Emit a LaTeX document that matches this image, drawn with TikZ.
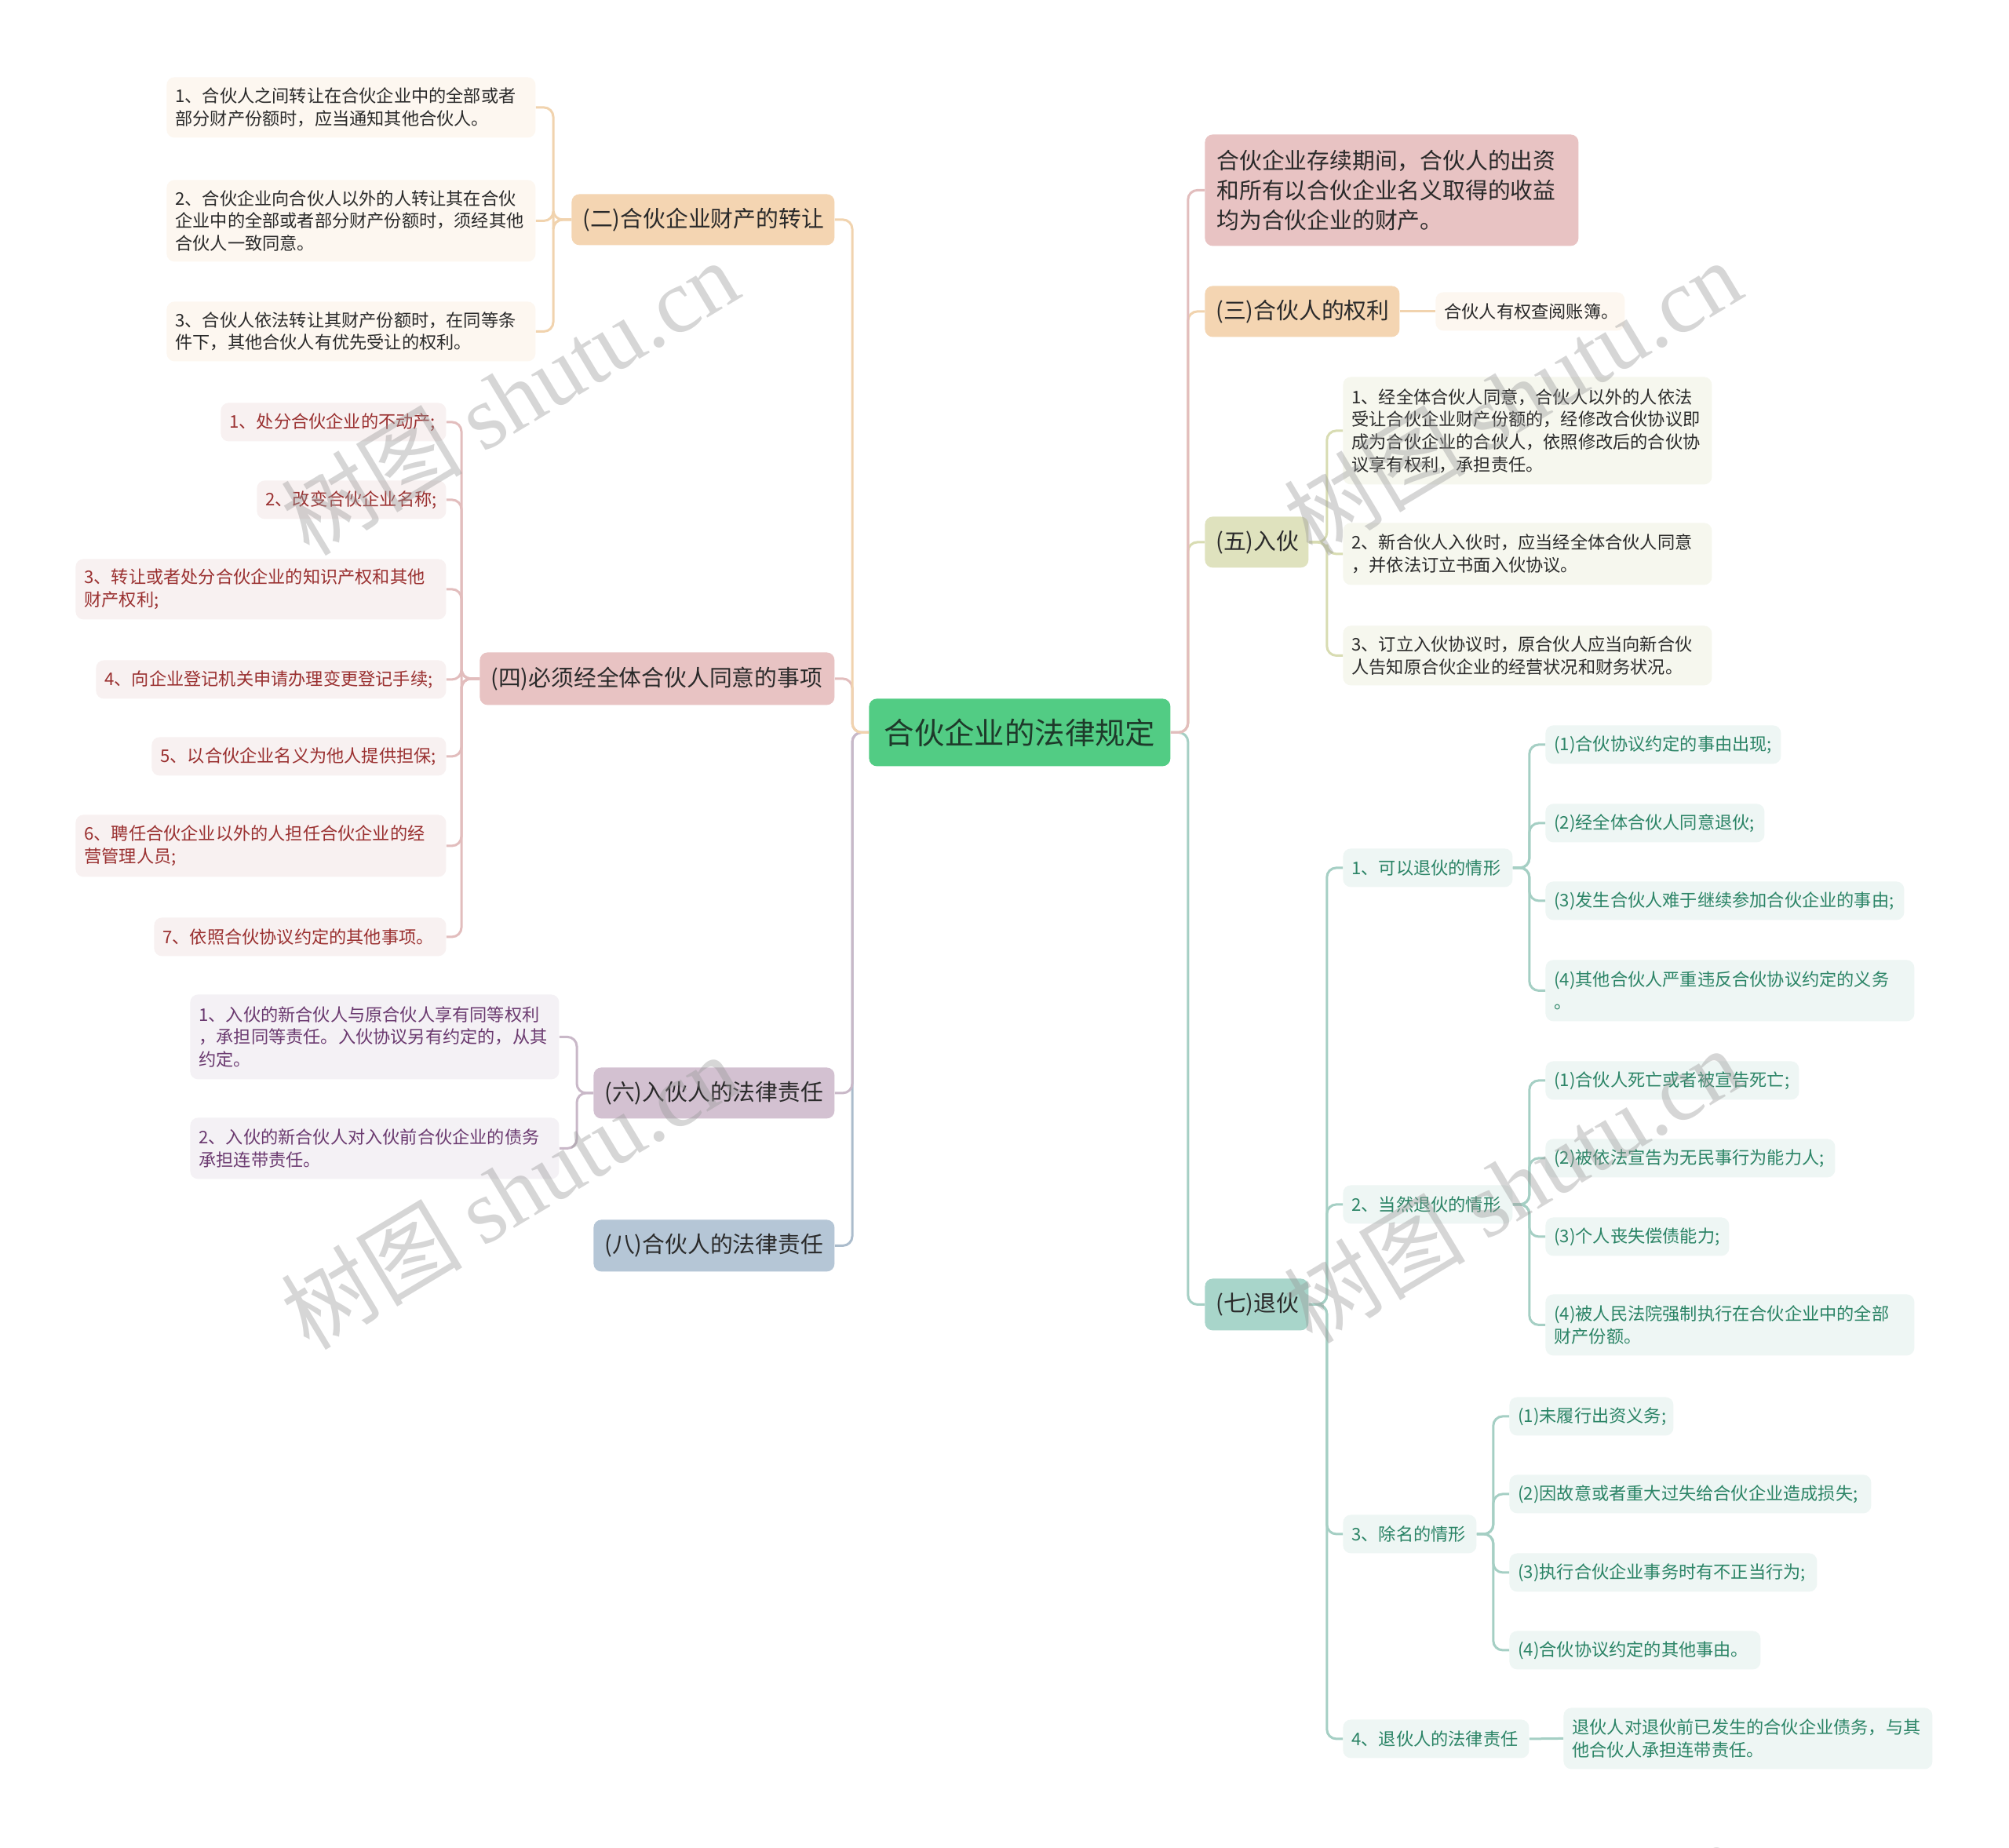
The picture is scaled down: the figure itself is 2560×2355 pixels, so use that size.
\documentclass[tikz,border=0pt]{standalone}
\usepackage{fontspec}
\setmainfont{Noto Sans CJK SC}
\newfontfamily\wmserif{Liberation Serif}
\definecolor{rootg}{HTML}{52CC84}
\definecolor{rootText}{HTML}{1E3A2A}
\definecolor{tanL1}{HTML}{F4D5B2}
\definecolor{tanLeaf}{HTML}{FDF7F0}
\definecolor{tanLine}{HTML}{F1D3AE}
\definecolor{pinkL1}{HTML}{E8C3C3}
\definecolor{pinkLeaf}{HTML}{F8F1F1}
\definecolor{pinkLine}{HTML}{E2BDBD}
\definecolor{pinkText}{HTML}{9A3030}
\definecolor{mauveL1}{HTML}{D3C1D1}
\definecolor{mauveLeaf}{HTML}{F4F1F5}
\definecolor{mauveLine}{HTML}{C9B8C8}
\definecolor{mauveText}{HTML}{6B3A70}
\definecolor{blueL1}{HTML}{B5C6D6}
\definecolor{blueLine}{HTML}{ABBCCC}
\definecolor{oliveL1}{HTML}{DFE2BE}
\definecolor{oliveLeaf}{HTML}{F6F7EE}
\definecolor{oliveLine}{HTML}{D8DCB2}
\definecolor{tealL1}{HTML}{A8D5CA}
\definecolor{tealLeaf}{HTML}{EEF6F4}
\definecolor{tealLine}{HTML}{A5CFC4}
\definecolor{tealText}{HTML}{2B8466}
\definecolor{darkText}{HTML}{2A2A2A}
\newcommand{\mmbox}[8]{%
  \pgfmathsetmacro\mmw{(#5-#3)/2}%
  \pgfmathsetmacro\mmh{(#6-#4)/2}%
  \pgfmathsetmacro\mmtw{(#5-#3)/2-2*#8}%
  \node[#2, anchor=north west, inner xsep=#8pt, inner ysep=0pt,
        minimum width=\mmw pt, minimum height=\mmh pt, text width=\mmtw pt] (#1) at (#3,#4) {#7};}
\tikzset{
  basebox/.style={rounded corners=5pt, align=left},
  leaffont/.style={font=\fontsize{11.1}{14.3}\selectfont},
  lonefont/.style={font=\fontsize{14.4}{19}\selectfont, text=darkText},
  rootbox/.style={basebox, fill=rootg, text=rootText, align=center, font=\fontsize{19.2}{23}\selectfont},
  tanbox/.style={basebox, lonefont, fill=tanL1},
  tanleaf/.style={basebox, leaffont, fill=tanLeaf, text=darkText},
  pinkbox/.style={basebox, lonefont, fill=pinkL1},
  pinkleaf/.style={basebox, leaffont, fill=pinkLeaf, text=pinkText},
  mauvebox/.style={basebox, lonefont, fill=mauveL1},
  mauveleaf/.style={basebox, leaffont, fill=mauveLeaf, text=mauveText},
  bluebox/.style={basebox, lonefont, fill=blueL1},
  olivebox/.style={basebox, lonefont, fill=oliveL1},
  oliveleaf/.style={basebox, leaffont, fill=oliveLeaf, text=darkText},
  tealbox/.style={basebox, lonefont, fill=tealL1},
  tealleaf/.style={basebox, leaffont, fill=tealLeaf, text=tealText},
  conn/.style={line width=1.5pt, rounded corners=6pt},
  wm/.style={text=black!40, opacity=0.4, font=\fontsize{58}{58}\selectfont, rotate=31}
}
\begin{document}
\begin{tikzpicture}[x=0.5pt,y=-0.5pt]
\useasboundingbox (0,0) rectangle (2560,2355);
\fill[white] (0,0) rectangle (2560,2355);

% root
\mmbox{root}{rootbox}{1107}{890}{1491}{976}{合伙企业的法律规定}{0}

% left level 1
\mmbox{n2}{tanbox}{728}{247}{1063}{312}{(二)合伙企业财产的转让}{7}
\mmbox{n4}{pinkbox}{611}{831}{1063}{898}{(四)必须经全体合伙人同意的事项}{7}
\mmbox{n6}{mauvebox}{756}{1360}{1063}{1425}{(六)入伙人的法律责任}{7}
\mmbox{n8}{bluebox}{756}{1554}{1063}{1620}{(八)合伙人的法律责任}{7}

% (二) leaves
\mmbox{a1}{tanleaf}{212}{98}{682}{175}{1、合伙人之间转让在合伙企业中的全部或者\\部分财产份额时，应当通知其他合伙人。}{5.5}
\mmbox{a2}{tanleaf}{212}{229}{682}{333}{2、合伙企业向合伙人以外的人转让其在合伙\\企业中的全部或者部分财产份额时，须经其他\\合伙人一致同意。}{5.5}
\mmbox{a3}{tanleaf}{212}{384}{682}{460}{3、合伙人依法转让其财产份额时，在同等条\\件下，其他合伙人有优先受让的权利。}{5.5}

% (四) leaves
\mmbox{b1}{pinkleaf}{281}{513}{568}{562}{1、处分合伙企业的不动产;}{5.5}
\mmbox{b2}{pinkleaf}{327}{612}{568}{661}{2、改变合伙企业名称;}{5.5}
\mmbox{b3}{pinkleaf}{96}{712}{568}{789}{3、转让或者处分合伙企业的知识产权和其他\\财产权利;}{5.5}
\mmbox{b4}{pinkleaf}{122}{841}{568}{890}{4、向企业登记机关申请办理变更登记手续;}{5.5}
\mmbox{b5}{pinkleaf}{193}{939}{568}{988}{5、以合伙企业名义为他人提供担保;}{5.5}
\mmbox{b6}{pinkleaf}{96}{1038}{568}{1117}{6、聘任合伙企业以外的人担任合伙企业的经\\营管理人员;}{5.5}
\mmbox{b7}{pinkleaf}{196}{1169}{568}{1218}{7、依照合伙协议约定的其他事项。}{5.5}

% (六) leaves
\mmbox{d1}{mauveleaf}{242}{1267}{712}{1375}{1、入伙的新合伙人与原合伙人享有同等权利\\，承担同等责任。入伙协议另有约定的，从其\\约定。}{5.5}
\mmbox{d2}{mauveleaf}{242}{1424}{712}{1502}{2、入伙的新合伙人对入伙前合伙企业的债务\\承担连带责任。}{5.5}

% right level 1
\mmbox{p1}{pinkbox}{1535}{171}{2011}{313}{合伙企业存续期间，合伙人的出资\\和所有以合伙企业名义取得的收益\\均为合伙企业的财产。}{7.5}
\mmbox{n3}{tanbox}{1535}{364}{1783}{429}{(三)合伙人的权利}{7}
\mmbox{n5}{olivebox}{1535}{658}{1667}{723}{(五)入伙}{7}
\mmbox{n7}{tealbox}{1535}{1629}{1667}{1695}{(七)退伙}{7}

\mmbox{n3a}{tanleaf}{1829}{372}{2070}{421}{合伙人有权查阅账簿。}{5.5}

% (五) leaves
\mmbox{e1}{oliveleaf}{1711}{480}{2181}{617}{1、经全体合伙人同意，合伙人以外的人依法\\受让合伙企业财产份额的，经修改合伙协议即\\成为合伙企业的合伙人，依照修改后的合伙协\\议享有权利，承担责任。}{5.5}
\mmbox{e2}{oliveleaf}{1711}{666}{2181}{745}{2、新合伙人入伙时，应当经全体合伙人同意\\，并依法订立书面入伙协议。}{5.5}
\mmbox{e3}{oliveleaf}{1711}{797}{2181}{873}{3、订立入伙协议时，原合伙人应当向新合伙\\人告知原合伙企业的经营状况和财务状况。}{5.5}

% (七) children
\mmbox{c1}{tealleaf}{1711}{1081}{1927}{1130}{1、可以退伙的情形}{5.5}
\mmbox{c2}{tealleaf}{1711}{1510}{1927}{1559}{2、当然退伙的情形}{5.5}
\mmbox{c3}{tealleaf}{1711}{1930}{1881}{1979}{3、除名的情形}{5.5}
\mmbox{c4}{tealleaf}{1711}{2191}{1948}{2240}{4、退伙人的法律责任}{5.5}

\mmbox{f1}{tealleaf}{1969}{924}{2269}{973}{(1)合伙协议约定的事由出现;}{5.5}
\mmbox{f2}{tealleaf}{1969}{1024}{2248}{1073}{(2)经全体合伙人同意退伙;}{5.5}
\mmbox{f3}{tealleaf}{1969}{1123}{2426}{1172}{(3)发生合伙人难于继续参加合伙企业的事由;}{5.5}
\mmbox{f4}{tealleaf}{1969}{1223}{2439}{1301}{(4)其他合伙人严重违反合伙协议约定的义务\\。}{5.5}

\mmbox{g1}{tealleaf}{1969}{1352}{2292}{1401}{(1)合伙人死亡或者被宣告死亡;}{5.5}
\mmbox{g2}{tealleaf}{1969}{1451}{2338}{1500}{(2)被依法宣告为无民事行为能力人;}{5.5}
\mmbox{g3}{tealleaf}{1969}{1551}{2203}{1600}{(3)个人丧失偿债能力;}{5.5}
\mmbox{g4}{tealleaf}{1969}{1649}{2439}{1727}{(4)被人民法院强制执行在合伙企业中的全部\\财产份额。}{5.5}

\mmbox{h1}{tealleaf}{1923}{1780}{2132}{1829}{(1)未履行出资义务;}{5.5}
\mmbox{h2}{tealleaf}{1923}{1879}{2384}{1928}{(2)因故意或者重大过失给合伙企业造成损失;}{5.5}
\mmbox{h3}{tealleaf}{1923}{1979}{2315}{2028}{(3)执行合伙企业事务时有不正当行为;}{5.5}
\mmbox{h4}{tealleaf}{1923}{2078}{2243}{2127}{(4)合伙协议约定的其他事由。}{5.5}

\mmbox{k1}{tealleaf}{1992}{2176}{2462}{2254}{退伙人对退伙前已发生的合伙企业债务，与其\\他合伙人承担连带责任。}{5.5}

% connectors: root to left
\draw[conn, blueLine] (root.west) -- ++(-21,0) |- (n8.east);
\draw[conn, mauveLine] (root.west) -- ++(-21,0) |- (n6.east);
\draw[conn, pinkLine] (root.west) -- ++(-21,0) |- (n4.east);
\draw[conn, tanLine] (root.west) -- ++(-21,0) |- (n2.east);
% root to right
\draw[conn, tealLine] (root.east) -- ++(22,0) |- (n7.west);
\draw[conn, oliveLine] (root.east) -- ++(22,0) |- (n5.west);
\draw[conn, tanLine] (root.east) -- ++(22,0) |- (n3.west);
\draw[conn, pinkLine] (root.east) -- ++(22,0) |- (p1.west);

% (二)
\foreach \t in {a1,a2,a3} \draw[conn, tanLine] (n2.west) -- ++(-23,0) |- (\t.east);
% (四)
\foreach \t in {b1,b2,b3,b4,b5,b6,b7} \draw[conn, pinkLine] (n4.west) -- ++(-23,0) |- (\t.east);
% (六)
\foreach \t in {d1,d2} \draw[conn, mauveLine] (n6.west) -- ++(-21,0) |- (\t.east);
% (三)
\draw[conn, tanLine] (n3.east) -- (n3a.west);
% (五)
\foreach \t in {e1,e2,e3} \draw[conn, oliveLine] (n5.east) -- ++(23,0) |- (\t.west);
% (七)
\foreach \t in {c1,c2,c3,c4} \draw[conn, tealLine] (n7.east) -- ++(23,0) |- (\t.west);
\foreach \t in {f1,f2,f3,f4} \draw[conn, tealLine] (c1.east) -- ++(21,0) |- (\t.west);
\foreach \t in {g1,g2,g3,g4} \draw[conn, tealLine] (c2.east) -- ++(21,0) |- (\t.west);
\foreach \t in {h1,h2,h3,h4} \draw[conn, tealLine] (c3.east) -- ++(21,0) |- (\t.west);
\draw[conn, tealLine] (c4.east) -- (k1.west);

% watermarks
\begin{scope}
\clip (0,0) rectangle (2560,2355);
\node[wm] (w1) at (649,506) {树图 {\wmserif shutu.cn}};
\node[wm] (w2) at (1927,506) {树图 {\wmserif shutu.cn}};
\node[wm] (w3) at (649,1518) {树图 {\wmserif shutu.cn}};
\node[wm] (w4) at (1927,1510) {树图 {\wmserif shutu.cn}};
\node[wm] (w5) at (649,2530) {树图 {\wmserif shutu.cn}};
\node[wm] (w6) at (1927,2522) {树图 {\wmserif shutu.cn}};
\end{scope}
\end{tikzpicture}
\end{document}
